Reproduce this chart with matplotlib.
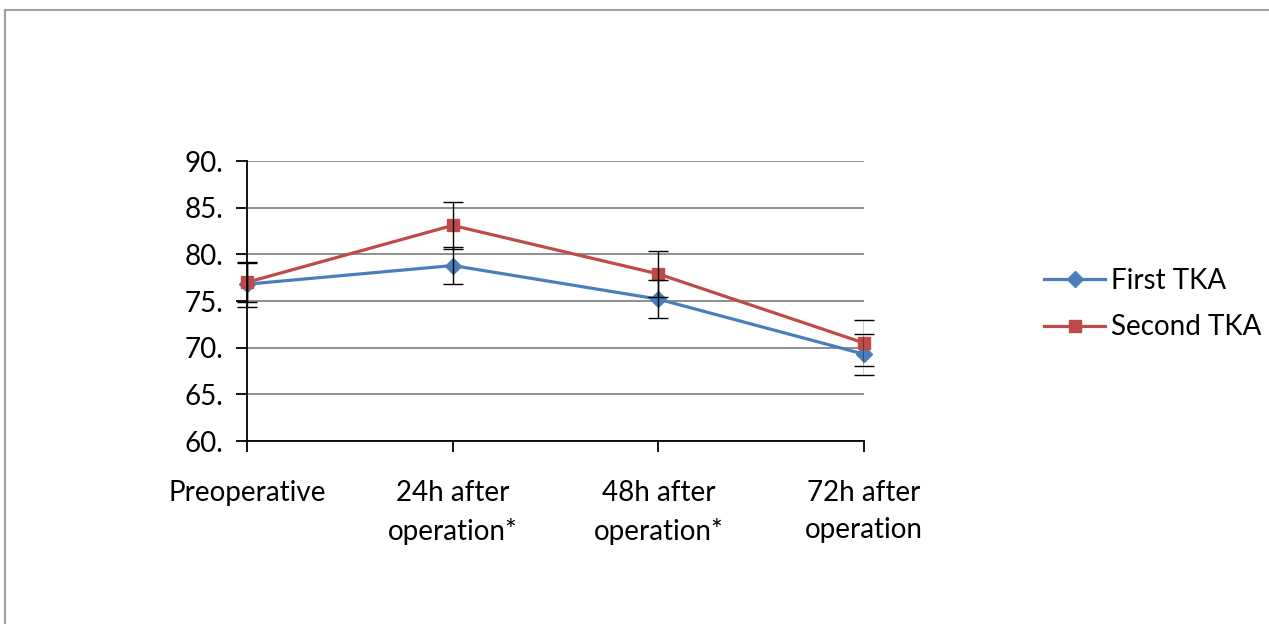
import numpy as np
import matplotlib
matplotlib.use("Agg")
import matplotlib.pyplot as plt
from matplotlib.lines import Line2D

plt.rcParams['font.family'] = ['Lato', 'DejaVu Sans']

categories = ["Preoperative", "24h after\noperation*", "48h after\noperation*", "72h after\noperation"]
first_tka = [76.8, 78.8, 75.2, 69.3]
first_err = [2.4, 2.0, 2.0, 2.2]
second_tka = [77.0, 83.1, 77.9, 70.5]
second_err = [2.1, 2.5, 2.5, 2.5]
yticks = [60, 65, 70, 75, 80, 85, 90]

fig = plt.figure(figsize=(12.69, 6.24), dpi=100)
ax = fig.add_axes([247 / 1269, 1 - 441 / 624, (864 - 247) / 1269, (441 - 161) / 624])

x = np.arange(len(categories))

ax.plot(x, first_tka, color='#4a7ebb', lw=2.3, marker='D', ms=8, label='First TKA', zorder=3)
ax.plot(x, second_tka, color='#be4b48', lw=2.3, marker='s', ms=8.5, label='Second TKA', zorder=3)
ax.errorbar(x, first_tka, yerr=first_err, fmt='none', ecolor='black', elinewidth=1.0,
            capsize=7, capthick=1.0, zorder=4)
ax.errorbar(x, second_tka, yerr=second_err, fmt='none', ecolor='black', elinewidth=1.0,
            capsize=7, capthick=1.0, zorder=4)

ax.set_xlim(0, len(categories) - 1)
ax.set_ylim(60, 90)
ax.set_yticks(yticks)
ax.set_yticklabels([f"{v}." for v in yticks], fontsize=20)
ax.set_xticks(x)
ax.set_xticklabels(categories, fontsize=20, linespacing=1.55)
ax.tick_params(axis='both', direction='out', length=8, width=1.3, color='black')
ax.tick_params(axis='x', pad=20)
ax.tick_params(axis='y', pad=9)

ax.grid(axis='y', color='#868686', lw=1.3)
ax.set_axisbelow(True)
for s in ['top', 'right']:
    ax.spines[s].set_visible(False)
for s in ['left', 'bottom']:
    ax.spines[s].set_linewidth(1.3)
    ax.spines[s].set_zorder(5)
for ln in ax.lines:
    ln.set_clip_on(False)

ax.legend(loc='center left', bbox_to_anchor=(1019 / 1269, 1 - 304 / 624),
          bbox_transform=fig.transFigure, frameon=False, fontsize=20,
          handlelength=2.2, labelspacing=0.75, handletextpad=0.2)

# outer frame (top and left edges visible)
fig.add_artist(Line2D([5 / 1269, 1], [1 - 10 / 624, 1 - 10 / 624], color='#a0a0a0', lw=1.5))
fig.add_artist(Line2D([5 / 1269, 5 / 1269], [0, 1 - 10 / 624], color='#a0a0a0', lw=1.5))

fig.savefig("out.png", dpi=100)
